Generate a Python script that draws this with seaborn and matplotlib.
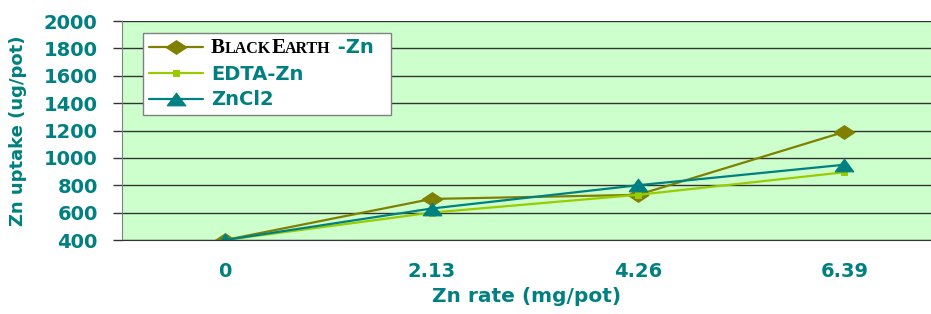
import numpy as np
import pandas as pd
import matplotlib
import matplotlib.pyplot as plt
import seaborn as sns
from matplotlib.offsetbox import TextArea, HPacker, AnnotationBbox

rates = ['0', '2.13', '4.26', '6.39']
blackearth = [400, 700, 730, 1190]
edta = [400, 600, 730, 895]
zncl2 = [400, 630, 800, 950]

teal = '#008080'
olive = '#808000'
lime = '#99CC00'

# flattened marker shapes (the original markers are wider than tall)
diamond = [(-1, 0), (0, 0.66), (1, 0), (0, -0.66), (-1, 0)]
triangle = [(-1, -0.68), (1, -0.68), (0, 0.68), (-1, -0.68)]

sns.set_style('white')
plt.rcParams['font.family'] = ['DejaVu Sans']
plt.rcParams['font.weight'] = 'bold'

df = pd.DataFrame({'pos': np.arange(len(rates)),
                   'BlackEarth -Zn': blackearth,
                   'EDTA-Zn': edta,
                   'ZnCl2': zncl2})

fig = plt.figure(figsize=(9.31, 3.14), dpi=100)
ax = fig.add_axes([122/931, 74/314, 809/931, 219/314])
ax.set_facecolor('#CCFFCC')

sns.lineplot(data=df, x='pos', y='BlackEarth -Zn', ax=ax, color=olive, lw=1.6,
             marker=diamond, markersize=15, markeredgecolor=olive, label='BlackEarth -Zn  ')
sns.lineplot(data=df, x='pos', y='EDTA-Zn', ax=ax, color=lime, lw=1.6,
             marker='s', markersize=5, markeredgecolor=lime, label='EDTA-Zn')
sns.lineplot(data=df, x='pos', y='ZnCl2', ax=ax, color=teal, lw=1.6,
             marker=triangle, markersize=13.5, markeredgecolor=teal, label='ZnCl2')

ax.set_xlim(-0.5, 3.42)
ax.set_ylim(400, 2000)
ax.set_yticks(range(400, 2001, 200))
ax.yaxis.grid(True, color='#333333', lw=1.0)
ax.set_axisbelow(True)

# category boundaries get the tick marks, centres get the labels
ax.set_xticks([-0.5, 0.5, 1.5, 2.5])
ax.set_xticklabels([])
ax.set_xticks(range(len(rates)), minor=True)
ax.set_xticklabels(rates, minor=True)
ax.tick_params(axis='x', which='major', length=5, width=1, color='#808080', direction='out')
ax.tick_params(axis='x', which='minor', length=0, pad=16, labelsize=14, labelcolor=teal)
ax.tick_params(axis='y', length=6.5, width=1, color='#333333', pad=11, labelsize=14,
               labelcolor=teal, direction='out', left=True)

for s in ['top', 'right']:
    ax.spines[s].set_visible(False)
ax.spines['left'].set_color('#808080')
ax.spines['bottom'].set_color('#333333')

ax.set_ylabel('Zn uptake (ug/pot)', fontsize=13, color=teal, fontweight='bold')
ax.yaxis.set_label_coords(-0.1286, 0.5)
ax.yaxis.label.set_va('center')
ax.set_xlabel('Zn rate (mg/pot)', fontsize=14.5, color=teal, fontweight='bold', labelpad=4)

leg = ax.legend(loc='upper left', bbox_to_anchor=(0.026, 0.945), borderaxespad=0,
                frameon=True, fancybox=False, edgecolor='#808080', framealpha=1,
                prop={'size': 14, 'weight': 'bold'}, handlelength=2.8,
                handletextpad=0.4, labelspacing=0.35, borderpad=0.3)
leg.get_frame().set_linewidth(1.0)
for t in leg.get_texts():
    t.set_color(teal)
first = leg.get_texts()[0]
first.set_alpha(0)

# small caps brand name + teal suffix
parts = [('B', 15), ('LACK', 11.5), ('E', 15), ('ARTH', 11.5)]
kids = [TextArea(s, textprops=dict(family='Liberation Serif', weight='bold', size=sz, color='black'))
        for s, sz in parts]
kids.append(TextArea(' -Zn', textprops=dict(family='DejaVu Sans', weight='bold', size=14, color=teal)))
box = HPacker(children=kids, align='baseline', pad=0, sep=0)
ab = AnnotationBbox(box, (0, 0.5), xycoords=first, box_alignment=(0, 0.5),
                    frameon=False, pad=0)
ab.set_zorder(6)
ax.add_artist(ab)

fig.savefig('out.png', dpi=100)
